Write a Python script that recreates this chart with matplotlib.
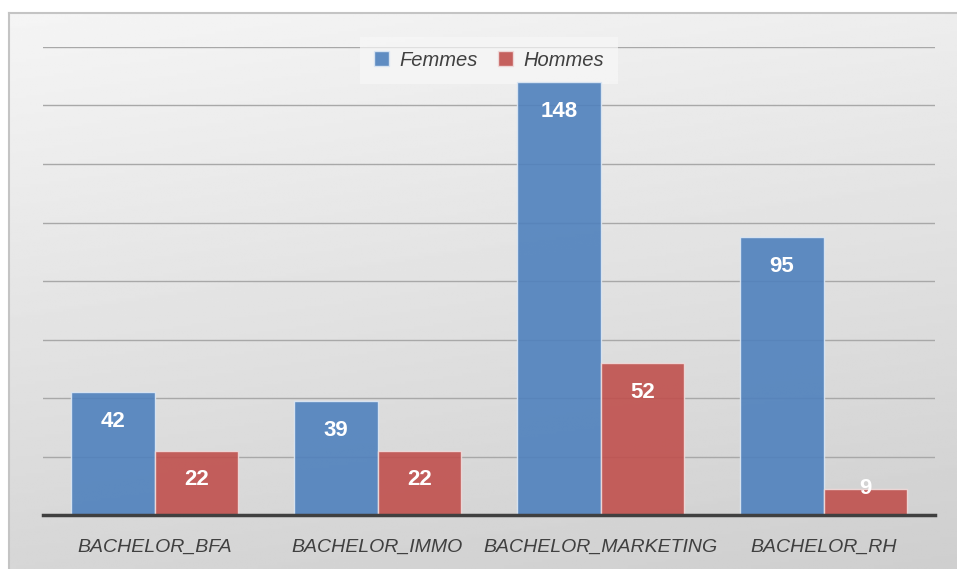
import matplotlib.pyplot as plt
import numpy as np

categories = ['BACHELOR_BFA', 'BACHELOR_IMMO', 'BACHELOR_MARKETING', 'BACHELOR_RH']
femmes = [42, 39, 148, 95]
hommes = [22, 22, 52, 9]

plt.rcParams['font.family'] = ['Liberation Sans', 'DejaVu Sans']

fig = plt.figure(figsize=(9.57, 5.69), dpi=100)
fig.patch.set_facecolor('white')

# gradient background panel
bg = fig.add_axes([9 / 957, 0, 1 - 9 / 957, 1 - 13 / 569])
yy, xx = np.mgrid[0:1:200j, 0:1:200j]
grad = 0.96 - 0.15 * (0.8 * yy + 0.2 * xx)
bg.imshow(grad, cmap='gray', vmin=0, vmax=1, aspect='auto', extent=[0, 1, 0, 1])
bg.set_xticks([])
bg.set_yticks([])
for side in ['right', 'bottom']:
    bg.spines[side].set_visible(False)
for side in ['left', 'top']:
    bg.spines[side].set_color('#c4c4c4')
    bg.spines[side].set_linewidth(1.5)

ax = fig.add_axes([43 / 957, 1 - 515 / 569, (935 - 43) / 957, (515 - 47) / 569])
ax.patch.set_alpha(0)

x = np.arange(len(categories))
w = 0.375
b1 = ax.bar(x - w / 2, femmes, w, color='#4f81bd', alpha=0.9,
            edgecolor='#dde8f4', linewidth=1, label='Femmes', zorder=3)
b2 = ax.bar(x + w / 2, hommes, w, color='#c0504d', alpha=0.9,
            edgecolor='#f0dcdc', linewidth=1, label='Hommes', zorder=3)

for bars in (b1, b2):
    for r in bars:
        v = r.get_height()
        off = -21 if v > 20 else 0
        ax.annotate(str(int(v)), (r.get_x() + r.get_width() / 2, v),
                    xytext=(0, off), textcoords='offset points',
                    ha='center', va='center', color='white', fontsize=16,
                    fontweight='bold', zorder=4)

ax.set_ylim(0, 160)
ax.set_xlim(-0.5, 3.5)
ax.set_yticks(np.arange(20, 161, 20))
ax.yaxis.grid(True, color='#a8a8a8', linewidth=1, zorder=1)
ax.tick_params(axis='y', left=False, labelleft=False)
ax.tick_params(axis='x', bottom=False, pad=14)
ax.set_xticks(x)
ax.set_xticklabels(categories, fontsize=14, style='italic', color='#404040')
ax.axhline(0, color='#404040', linewidth=2.5, zorder=5, clip_on=False)
for s in ax.spines.values():
    s.set_visible(False)

leg = ax.legend(loc='center', bbox_to_anchor=(0.5, 0.972), ncol=2,
                frameon=True, fontsize=14.5, handlelength=0.75, handleheight=0.75,
                handletextpad=0.5, columnspacing=1.0, borderpad=0.4)
leg.set_zorder(2)
leg.get_frame().set_facecolor('#f7f7f7')
leg.get_frame().set_edgecolor('none')
leg.get_frame().set_alpha(0.7)
leg.get_frame().set_boxstyle('square', pad=0.3)
for t in leg.get_texts():
    t.set_style('italic')
    t.set_color('#404040')

fig.savefig('out.png', dpi=100)
